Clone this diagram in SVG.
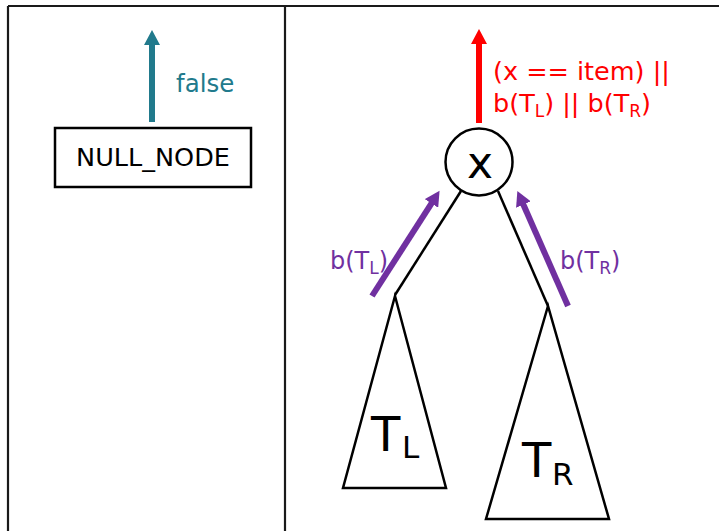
<svg xmlns="http://www.w3.org/2000/svg" width="719" height="531" viewBox="0 0 719 531">
<style>
  .frame { stroke: #1a1a1a; stroke-width: 2.2; fill: none; }
  .shape { stroke: #000; stroke-width: 2.5; fill: #fff; }
  .edge { stroke: #000; stroke-width: 2.5; fill: none; }
  .lbl { font-family: "DejaVu Sans", "Liberation Sans", sans-serif; }
  .teal { fill: #217a8c; }
  .red { fill: #ff0000; }
  .purple { fill: #7030a0; }
</style>
<defs>
  <marker id="headTeal" markerUnits="userSpaceOnUse" markerWidth="16" markerHeight="16" viewBox="0 0 16 16" refX="1" refY="8" orient="auto">
    <path d="M0,0 L15,8 L0,16 z" fill="#217a8c"/>
  </marker>
  <marker id="headRed" markerUnits="userSpaceOnUse" markerWidth="16" markerHeight="16" viewBox="0 0 16 16" refX="1" refY="8" orient="auto">
    <path d="M0,0 L15,8 L0,16 z" fill="#ff0000"/>
  </marker>
  <marker id="headPurple" markerUnits="userSpaceOnUse" markerWidth="16" markerHeight="16" viewBox="0 0 16 16" refX="1" refY="8" orient="auto">
    <path d="M0,0 L15,8 L0,16 z" fill="#7030a0"/>
  </marker>
</defs>
<rect width="719" height="531" fill="#fff"/>

<g id="frame">
  <line class="frame" x1="8" y1="6" x2="725" y2="6"/>
  <line class="frame" x1="8" y1="6" x2="8" y2="535"/>
  <line class="frame" x1="285" y1="6" x2="285" y2="535"/>
</g>

<g id="null_node">
  <rect class="shape" x="55" y="128" width="196" height="59" stroke-width="2"/>
  <text class="lbl" x="153" y="166" font-size="25.5" text-anchor="middle" fill="#000">NULL_NODE</text>
</g>

<g id="node_x">
  <circle class="shape" cx="479" cy="162" r="33.5"/>
  <text class="lbl" x="480" y="178" font-size="44" text-anchor="middle" fill="#000">x</text>
</g>

<g id="subtree_TL">
  <polygon class="shape" points="395,296 343,488 446,488"/>
  <text class="lbl" font-size="48" fill="#000" x="371" y="451">T</text>
  <text class="lbl" font-size="31" fill="#000" x="402" y="458">L</text>
</g>

<g id="subtree_TR">
  <polygon class="shape" points="548,306 486,519 609,519"/>
  <text class="lbl" font-size="48" fill="#000" x="522" y="477">T</text>
  <text class="lbl" font-size="31" fill="#000" x="552" y="485">R</text>
</g>

<g id="connectors">
  <line class="edge" x1="461" y1="191" x2="395" y2="295"/>
  <line class="edge" x1="498" y1="191" x2="548" y2="306"/>
  <line x1="152" y1="122" x2="152" y2="44" stroke="#217a8c" stroke-width="6" marker-end="url(#headTeal)"/>
  <line x1="479" y1="123" x2="479" y2="43" stroke="#ff0000" stroke-width="6" marker-end="url(#headRed)"/>
  <line x1="372" y1="296" x2="432" y2="202.6" stroke="#7030a0" stroke-width="6" marker-end="url(#headPurple)"/>
  <line x1="568" y1="306" x2="523" y2="203.7" stroke="#7030a0" stroke-width="6" marker-end="url(#headPurple)"/>
</g>

<g id="labels">
  <text class="lbl teal" x="176" y="92" font-size="24.5">false</text>
  <text class="lbl red" x="493" y="80" font-size="25.5">(x == item) ||</text>
  <text class="lbl red" x="493" y="112" font-size="25.5">b(T<tspan font-size="17" dy="5">L</tspan><tspan dy="-5">) || b(T</tspan><tspan font-size="17" dy="5">R</tspan><tspan dy="-5">)</tspan></text>
  <text class="lbl purple" x="330" y="269" font-size="24">b(T<tspan font-size="17" dy="5">L</tspan><tspan dy="-5">)</tspan></text>
  <text class="lbl purple" x="560" y="269" font-size="24">b(T<tspan font-size="17" dy="5">R</tspan><tspan dy="-5">)</tspan></text>
</g>
</svg>
